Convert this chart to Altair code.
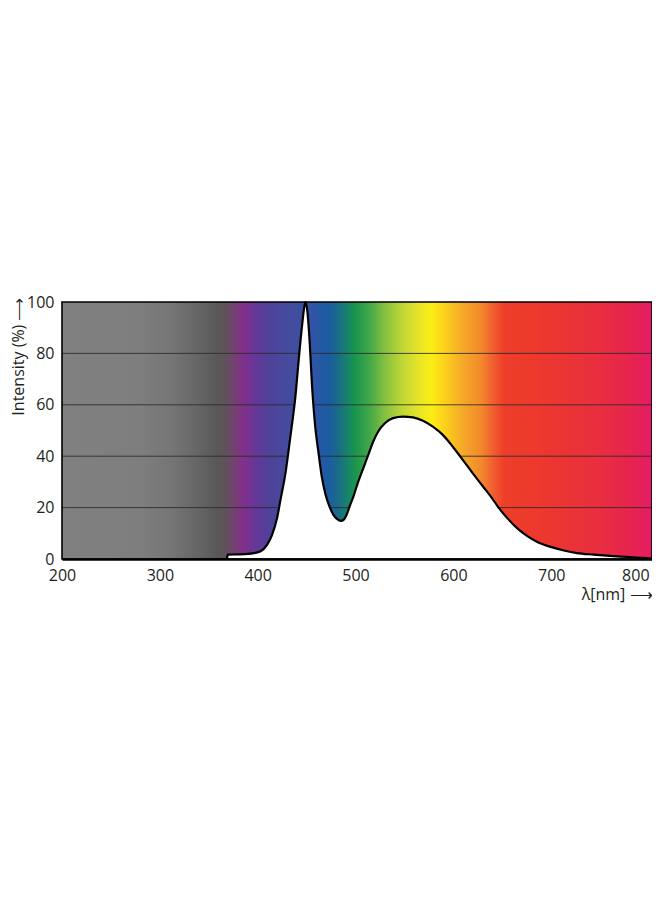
import altair as alt
import pandas as pd

# Emission curve (wavelength in nm, relative intensity in %)
wavelength = [368.8, 369.2, 380, 390, 396, 403, 409.7, 414.7, 419.8, 423.3, 428.4,
              433.4, 438.5, 441.9, 445.2, 448, 449, 451, 453, 455.4, 458.8, 462.2,
              465.5, 469, 473.4, 477.4, 481, 485, 488, 491, 494, 497.8, 502.8, 507.9,
              513, 518.1, 523.2, 530, 538.4, 548.6, 558.7, 568.9, 579, 589.2, 599.4,
              609.6, 619.7, 629.9, 640, 645.1, 655.3, 665.4, 675.6, 685.8, 699.3,
              712.9, 726.4, 743.4, 760.3, 777.2, 794.2, 803]
intensity = [0, 1.7, 1.8, 2.0, 2.3, 3.0, 5.6, 9.4, 15.9, 23, 33.4,
             47.6, 63.1, 77.4, 90.3, 98.8, 100, 95.5, 85.2, 68.3, 51.5, 41.2,
             32.1, 25.6, 20.4, 17.2, 15.6, 14.8, 15.3, 17.3, 20.5, 24.3, 30.1, 35.3,
             40.5, 45.7, 49.6, 52.8, 54.8, 55.4, 55.1, 53.8, 51.5, 48.3, 43.7,
             38.6, 33.4, 28.4, 23.4, 20.6, 15.8, 11.9, 8.9, 6.6, 4.7,
             3.3, 2.3, 1.7, 1.2, 0.8, 0.4, 0.2]

x_ticks = [200, 300, 400, 500, 600, 700, 800]
y_ticks = [0, 20, 40, 60, 80, 100]
grid_values = [20, 40, 60, 80]
x_range = [200, 803]
y_range = [0, 100]

# Spectrum background colour stops (wavelength, colour)
stop_wl = [200, 280, 310, 340, 358, 366, 376, 385, 398, 412, 435, 458, 472, 482,
           490, 500, 515, 530, 548, 565, 578, 592, 610, 628, 640, 652, 700, 750,
           780, 803]
stop_colors = ["#808080", "#7e7e7e", "#767676", "#656565", "#585858", "#5c5459",
               "#74416f", "#822f8c", "#653796", "#4e4299", "#434c9e", "#2f55a6",
               "#1a5ca2", "#1a6a88", "#178070", "#1a964c", "#45a848", "#85c040",
               "#c0d636", "#e8e428", "#fced14", "#fbcf1c", "#f5a828", "#f38a2c",
               "#f06030", "#ee3e29", "#ec3630", "#e82e40", "#e6244e", "#e31c64"]

curve = pd.DataFrame({"wl": wavelength, "intensity": intensity})
band = pd.DataFrame({"x0": [x_range[0]], "x1": [x_range[1]],
                     "y0": [y_range[0]], "y1": [y_range[1]]})
grid = pd.DataFrame({"y": grid_values})

span = x_range[1] - x_range[0]
gradient = alt.Gradient(
    gradient="linear",
    stops=[alt.GradientStop(color=c, offset=(w - x_range[0]) / span)
           for w, c in zip(stop_wl, stop_colors)],
    x1=0, x2=1, y1=0, y2=0,
)

FONT = "Open Sans"
TXT = "#231f20"
FS = 16

xs = alt.Scale(domain=x_range, nice=False, zero=False)
ys = alt.Scale(domain=y_range, nice=False, zero=True)

x_axis = alt.Axis(
    title="λ[nm] ⟶", values=x_ticks, format="d", ticks=False, grid=False,
    domain=True, domainColor="black", domainWidth=2.5, zindex=1,
    labelPadding=8, labelFont=FONT, labelFontSize=FS, labelColor=TXT,
    labelAlign={"expr": "datum.value == 800 ? 'right' : 'center'"},
    titleFont=FONT, titleFontSize=FS, titleFontWeight="normal", titleColor=TXT,
    titleX=590, titleY=35, titleAlign="right", titleBaseline="middle",
)
y_axis = alt.Axis(
    title="Intensity (%) ⟶", values=y_ticks, ticks=False, grid=False,
    domain=False, labelPadding=8, labelFont=FONT, labelFontSize=FS,
    labelColor=TXT,
    titleFont=FONT, titleFontSize=FS, titleFontWeight="normal", titleColor=TXT,
    titleAngle=270, titleX=-44, titleY=-5, titleAlign="right",
    titleBaseline="middle",
)

bg = alt.Chart(band).mark_rect(fill=gradient, strokeWidth=0).encode(
    x=alt.X("x0:Q", scale=xs, axis=x_axis),
    x2="x1:Q",
    y=alt.Y("y0:Q", scale=ys, axis=y_axis),
    y2="y1:Q",
)

rules = alt.Chart(grid).mark_rule(color="#2a2a2a", strokeWidth=1, opacity=0.85).encode(
    y=alt.Y("y:Q", scale=ys),
)

area = alt.Chart(curve).mark_area(color="white", opacity=1,
                                  interpolate="monotone").encode(
    x=alt.X("wl:Q", scale=xs),
    y=alt.Y("intensity:Q", scale=ys),
)

line = alt.Chart(curve).mark_line(color="black", strokeWidth=2.2,
                                  interpolate="monotone",
                                  strokeJoin="round").encode(
    x=alt.X("wl:Q", scale=xs),
    y=alt.Y("intensity:Q", scale=ys),
)

frame = alt.Chart(band).mark_rect(filled=False, stroke="black",
                                  strokeWidth=1.6).encode(
    x=alt.X("x0:Q", scale=xs),
    x2="x1:Q",
    y=alt.Y("y0:Q", scale=ys),
    y2="y1:Q",
)

chart = alt.layer(bg, rules, area, line, frame).properties(
    width=590, height=257,
    padding={"left": 54, "top": 294, "right": 0, "bottom": 60},
    autosize=alt.AutoSizeParams(type="none"),
).configure_view(stroke=None).configure(background="white")

chart.save("out.html", embed_options={"renderer": "svg", "actions": False})
